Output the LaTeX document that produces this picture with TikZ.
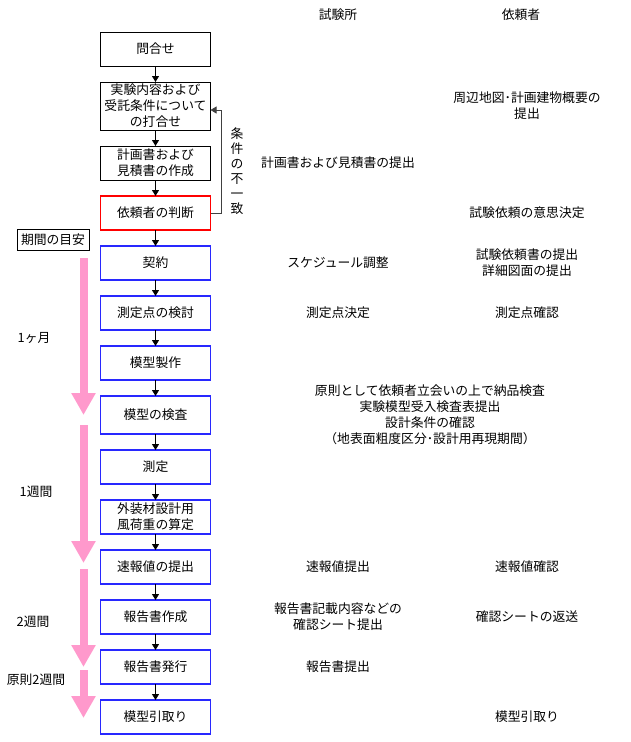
\documentclass[tikz,border=0pt]{standalone}
\usepackage{fontspec}
\setmainfont{Noto Sans CJK JP}
\usetikzlibrary{positioning, arrows.meta}

\definecolor{periodpink}{RGB}{255,153,204}
\definecolor{flowblue}{RGB}{40,40,255}

\begin{document}
\begin{tikzpicture}[
	x=1pt, y=-1pt,
	font=\fontsize{12.8}{16}\selectfont,
	% Define styles
	stepbox/.style={rectangle, draw=flowblue, line width=1.2pt, minimum width=110pt, minimum height=34pt, inner xsep=2pt, inner ysep=0pt, outer sep=0pt, align=center},
	startbox/.style={stepbox, draw=black, line width=0.8pt},
	judgebox/.style={stepbox, draw=red, line width=1.8pt},
	note/.style={align=center, inner sep=1pt},
	flow/.style={-{Triangle[length=6pt,width=7pt]}, line width=0.8pt, black},
	feedback/.style={-{Triangle[length=6pt,width=7pt]}, line width=0.8pt, black!75},
	period/.style={line width=8pt, periodpink, -{Triangle[length=22pt,width=23pt]}}
	]
	\useasboundingbox (0,0) rectangle (630,742);
	
	% Column positions
	\coordinate (lab) at (338,0);
	\coordinate (cli) at (527,0);
	\coordinate (both) at (430,0);
	
	% Headers
	\node[note] (hlab) at (338,15) {試験所};
	\node[note] (hcli) at (521,15) {依頼者};
	
	% 1. Flow of steps
	\node[startbox] (toiawase) at (155.5,49) {問合せ};
	\node[startbox, minimum height=48pt, below=16pt of toiawase] (uchiawase) {実験内容および\\受託条件について\\の打合せ};
	\node[startbox, below=16pt of uchiawase] (keikaku) {計画書および\\見積書の作成};
	\node[judgebox, below=16pt of keikaku] (handan) {依頼者の判断};
	\node[stepbox, below=16pt of handan] (keiyaku) {契約};
	\node[stepbox, below=16pt of keiyaku] (kento) {測定点の検討};
	\node[stepbox, below=16pt of kento] (seisaku) {模型製作};
	\node[stepbox, minimum height=38pt, below=16pt of seisaku] (kensa) {模型の検査};
	\node[stepbox, below=16pt of kensa] (sokutei) {測定};
	\node[stepbox, below=16pt of sokutei] (santei) {外装材設計用\\風荷重の算定};
	\node[stepbox, below=16pt of santei] (sokuho) {速報値の提出};
	\node[stepbox, below=16pt of sokuho] (sakusei) {報告書作成};
	\node[stepbox, below=16pt of sakusei] (hakko) {報告書発行};
	\node[stepbox, below=16pt of hakko] (hikitori) {模型引取り};
	
	% Arrows between steps
	\draw[flow] (toiawase) -- (uchiawase);
	\draw[flow] (uchiawase) -- (keikaku);
	\draw[flow] (keikaku) -- (handan);
	\draw[flow] (handan) -- (keiyaku);
	\draw[flow] (keiyaku) -- (kento);
	\draw[flow] (kento) -- (seisaku);
	\draw[flow] (seisaku) -- (kensa);
	\draw[flow] (kensa) -- (sokutei);
	\draw[flow] (sokutei) -- (santei);
	\draw[flow] (santei) -- (sokuho);
	\draw[flow] (sokuho) -- (sakusei);
	\draw[flow] (sakusei) -- (hakko);
	\draw[flow] (hakko) -- (hikitori);
	
	% Loop back when conditions do not match
	\draw[feedback] (handan.east) -- ++(10.5,0) |- ([yshift=-4pt]uchiawase.east);
	\node[note, font=\fontsize{12.8}{15}\selectfont] (fuitchi) at (237,171) {条\\件\\の\\不\\一\\致};
	
	% 2. Tasks of the laboratory and the client
	\node[note] (n-chizu) at (uchiawase -| cli) {周辺地図･計画建物概要の\\提出};
	\node[note] (n-mitsumori) at (keikaku -| lab) {計画書および見積書の提出};
	\node[note] (n-ishi) at (handan -| cli) {試験依頼の意思決定};
	\node[note] (n-schedule) at (keiyaku -| lab) {スケジュール調整};
	\node[note] (n-irai) at (keiyaku -| cli) {試験依頼書の提出\\詳細図面の提出};
	\node[note] (n-kettei) at (kento -| lab) {測定点決定};
	\node[note] (n-kakunin) at (kento -| cli) {測定点確認};
	\node[note] (n-kensa) at (kensa -| both) {原則として依頼者立会いの上で納品検査\\実験模型受入検査表提出\\設計条件の確認\\（地表面粗度区分･設計用再現期間）};
	\node[note] (n-teishutsu) at (sokuho -| lab) {速報値提出};
	\node[note] (n-sokuho) at (sokuho -| cli) {速報値確認};
	\node[note] (n-sheet) at (sakusei -| lab) {報告書記載内容などの\\確認シート提出};
	\node[note] (n-henso) at (sakusei -| cli) {確認シートの返送};
	\node[note] (n-hokoku) at (hakko -| lab) {報告書提出};
	\node[note] (n-hikitori) at (hikitori -| cli) {模型引取り};
	
	% 3. Approximate periods
	\node[draw, line width=0.8pt, inner sep=2pt, minimum width=72pt, minimum height=21pt] (meyasu) at (53,239.5) {期間の目安};
	\draw[period] (83.5,258) -- (83.5,415);
	\draw[period] (83.5,425) -- (83.5,563);
	\draw[period] (83.5,569) -- (83.5,667);
	\draw[period] (83.5,670) -- (83.5,718);
	\node[note] (p-month) at (34,338) {1ヶ月};
	\node[note] (p-week1) at (36,492) {1週間};
	\node[note] (p-week2) at (33,622) {2週間};
	\node[note] (p-week3) at (36,680) {原則2週間};
\end{tikzpicture}
\end{document}
